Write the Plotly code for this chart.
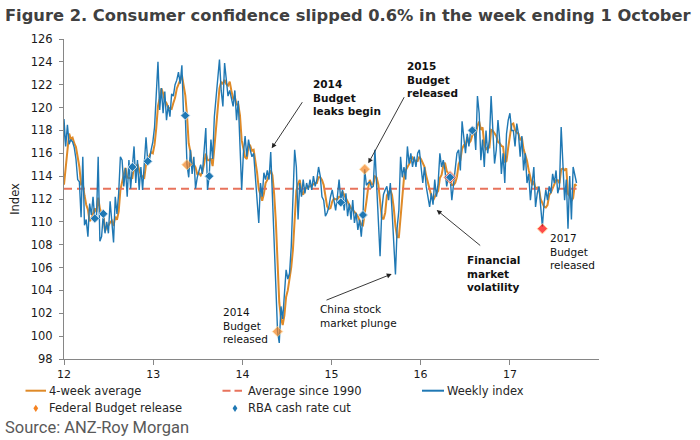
import pandas as pd
import plotly.graph_objects as go

# ---------------- data ----------------
w2011 = [110.5, 111.5, 112.0]  # Dec-2011 weeks (only feed the 4-week average)
w2012 = [119.0, 116.6, 118.5, 116.8, 117.2, 117.0, 116.5, 115.5, 113.7, 113.5,
         110.4, 115.7, 109.7, 110.2, 108.7, 111.6, 110.6, 112.2, 110.3, 110.3,
         115.7, 108.3, 108.7, 110.7, 109.0, 110.0, 109.0, 111.8, 109.6, 108.2,
         112.2, 110.7, 112.5, 115.7, 115.4, 113.1, 114.7, 112.2, 115.4, 112.9,
         114.8, 116.6, 113.4, 115.4, 112.8, 114.8, 112.8, 115.0, 117.4, 115.3,
         115.4, 116.3, 117.0]
w2013 = [118.3, 121.2, 124.0, 119.8, 121.7, 119.5, 121.4, 118.9, 120.2, 119.2,
         121.2, 121.0, 122.0, 122.4, 123.1, 122.1, 123.7, 119.2, 119.3, 115.0,
         113.9, 116.3, 114.2, 115.7, 112.9, 113.9, 114.5, 115.0, 114.2, 116.5,
         118.2, 112.8, 114.0, 117.2, 115.5, 119.2, 120.9, 122.4, 124.2, 121.5,
         120.1, 123.9, 122.7, 121.0, 121.5, 120.6, 120.1, 121.5, 118.9, 120.6,
         116.3, 112.8]
w2014 = [116.0, 117.5, 115.7, 117.2, 116.3, 115.7, 116.0, 113.7, 111.9, 109.9,
         113.4, 112.2, 114.3, 113.7, 114.5, 113.7, 116.1, 112.0, 108.0, 104.0,
         100.4, 99.4, 102.6, 101.5, 103.8, 105.8, 105.0, 105.5, 107.8, 112.0,
         116.3, 114.8, 110.2, 113.4, 112.2, 113.7, 112.5, 113.4, 112.8, 113.7,
         112.8, 114.0, 113.1, 113.7, 114.8, 114.0, 112.2, 111.9, 110.5, 110.8,
         111.3, 112.2]
w2015 = [112.8, 111.9, 111.0, 112.2, 113.7, 111.9, 112.8, 111.0, 112.5, 110.5,
         111.6, 110.2, 111.9, 109.9, 110.8, 109.3, 110.2, 108.7, 110.6, 114.6,
         113.2, 113.4, 113.5, 113.0, 113.1, 116.3, 113.1, 110.5, 107.0, 111.0,
         112.4, 112.8, 113.1, 111.9, 113.4, 111.0, 108.7, 105.4, 109.5, 111.0,
         115.7, 113.9, 114.8, 113.7, 116.6, 115.1, 116.0, 114.8, 115.7, 114.8,
         116.0, 116.3]
w2016 = [114.8, 113.4, 114.8, 113.1, 112.2, 111.3, 112.5, 111.5, 113.7, 112.2,
         113.4, 116.0, 114.8, 115.4, 114.5, 113.1, 114.0, 113.9, 111.9, 113.1,
         114.8, 116.0, 116.3, 114.5, 118.8, 117.2, 116.0, 117.7, 116.6, 118.0,
         118.0, 118.3, 116.3, 121.0, 119.5, 115.4, 117.2, 114.8, 118.0, 116.0,
         117.2, 121.0, 117.7, 115.1, 116.3, 118.9, 117.2, 114.2, 116.0, 113.4,
         117.7, 118.9]
w2017 = [119.5, 118.0, 118.0, 116.6, 118.6, 117.7, 115.7, 117.5, 114.5, 116.0,
         113.4, 114.2, 111.9, 113.4, 114.8, 111.3, 112.5, 113.1, 111.0, 109.6,
         111.6, 112.8, 111.9, 113.1, 112.5, 114.2, 113.4, 114.5, 112.5, 113.1,
         118.3, 114.8, 111.9, 113.7, 109.4, 114.0, 110.2, 114.8, 114.2, 113.4]
segment_starts = ["2011-12-11", "2012-01-01", "2013-01-06", "2014-01-05",
                  "2015-01-04", "2016-01-03", "2017-01-01"]

avg_since_1990 = 112.9

budget_dates = ["2013-05-19", "2014-05-25", "2015-05-17", "2016-05-01", "2017-05-14"]
budget_vals = [115.0, 100.4, 114.6, 113.9, 109.4]
budget_colors = ["#F58220", "#F58220", "#F58220", "#E8222B", "#FF0000"]

rba_dates = ["2012-05-06", "2012-06-10", "2012-10-07", "2012-12-09", "2013-05-12",
             "2013-08-18", "2015-02-08", "2015-05-10", "2016-05-01", "2016-07-31"]
rba_vals = [110.3, 110.7, 114.8, 115.3, 119.3, 114.0, 111.7, 110.6, 113.9, 118.0]

year_ticks = ["2012-01-01", "2013-01-01", "2014-01-01", "2015-01-01",
              "2016-01-01", "2017-01-01"]
year_labels = ["12", "13", "14", "15", "16", "17"]

# ---------------- build series ----------------
parts = []
for start, vals in zip(segment_starts, [w2011, w2012, w2013, w2014, w2015, w2016, w2017]):
    idx = pd.date_range(start=start, periods=len(vals), freq="7D")
    parts.append(pd.Series(vals, index=idx))
weekly = pd.concat(parts)
avg4 = weekly.rolling(4).mean().dropna()
shown = weekly[weekly.index >= "2012-01-01"]

BLUE = "#1F78B4"
ORANGE = "#DF8A28"
RED_DASH = "#E8735C"
FONT = "DejaVu Sans"

fig = go.Figure()
fig.add_trace(go.Scatter(x=avg4.index, y=avg4.values, mode="lines",
                         line=dict(color=ORANGE, width=2), name="4-week average"))
fig.add_trace(go.Scatter(x=[shown.index[0], shown.index[-1]],
                         y=[avg_since_1990, avg_since_1990], mode="lines",
                         line=dict(color=RED_DASH, width=2, dash="8px,5px"),
                         name="Average since 1990"))
fig.add_trace(go.Scatter(x=weekly.index, y=weekly.values, mode="lines",
                         line=dict(color=BLUE, width=1.4), name="Weekly index"))
fig.add_trace(go.Scatter(x=budget_dates, y=budget_vals, mode="markers",
                         marker=dict(symbol="diamond", size=[8, 8, 8, 10, 8],
                                     color=budget_colors,
                                     line=dict(color="#FFD58A", width=1)),
                         name="Federal Budget release"))
fig.add_trace(go.Scatter(x=rba_dates, y=rba_vals, mode="markers",
                         marker=dict(symbol="diamond", size=7, color=BLUE,
                                     line=dict(color="#CFE3F2", width=1)),
                         name="RBA cash rate cut"))

# ---------------- pixel helpers for annotation placement ----------------
L, R, T, B = 64, 101, 39, 81
PW, PH = 700 - L - R, 440 - T - B


def px(xp):
    return (xp - L) / PW


def py(yp):
    return (440 - B - yp) / PH


annotations = []


def text_ann(xl, yc, text, size=10.5, color="#111111", family=FONT):
    annotations.append(dict(xref="paper", yref="paper", x=px(xl), y=py(yc),
                            xanchor="left", yanchor="middle", align="left",
                            showarrow=False, text=text,
                            font=dict(family=family, size=size, color=color)))


def arrow(tip, tail):
    annotations.append(dict(xref="paper", yref="paper", x=px(tip[0]), y=py(tip[1]),
                            ax=tail[0] - tip[0], ay=tail[1] - tip[1], text="",
                            showarrow=True, arrowhead=2, arrowsize=1.1,
                            arrowwidth=0.9, arrowcolor="#222222"))


text_ann(311, 97.5, "<b>2014<br>Budget<br>leaks begin</b>")
text_ann(405, 79, "<b>2015<br>Budget<br>released</b>")
text_ann(221, 325, "2014<br>Budget<br>released")
text_ann(318, 316.3, "China stock<br>market plunge")
text_ann(465, 273, "<b>Financial<br>market<br>volatility</b>")
text_ann(548, 251.5, "2017<br>Budget<br>released")

arrow((271.7, 148.3), (303.3, 100.7))
arrow((368.3, 163.3), (405, 95.7))
arrow((391.7, 274), (325, 300.7))
arrow((436.7, 210), (481.7, 246.7))

# manual legend
LEG_Y1, LEG_Y2 = 390.7, 408.3
legend_text = [(46.5, LEG_Y1, "4-week average"), (245.5, LEG_Y1, "Average since 1990"),
               (444.7, LEG_Y1, "Weekly index"), (46.5, LEG_Y2, "Federal Budget release"),
               (245.5, LEG_Y2, "RBA cash rate cut")]
for xl, yc, t in legend_text:
    text_ann(xl, yc, t, size=11.5, color="#262626")

shapes = [
    dict(type="line", xref="paper", yref="paper", x0=px(25.5), x1=px(46), y0=py(LEG_Y1),
         y1=py(LEG_Y1), line=dict(color=ORANGE, width=2)),
    dict(type="line", xref="paper", yref="paper", x0=px(222.5), x1=px(242), y0=py(LEG_Y1),
         y1=py(LEG_Y1), line=dict(color=RED_DASH, width=2, dash="8px,4px")),
    dict(type="line", xref="paper", yref="paper", x0=px(422), x1=px(444), y0=py(LEG_Y1),
         y1=py(LEG_Y1), line=dict(color=BLUE, width=2)),
]
for cx, col in [(35.8, "#F58220"), (235, BLUE)]:
    d = 3.0
    path = (f"M {px(cx)} {py(LEG_Y2 - d - 0.6)} L {px(cx + d - 0.6)} {py(LEG_Y2)} "
            f"L {px(cx)} {py(LEG_Y2 + d + 0.6)} L {px(cx - d + 0.6)} {py(LEG_Y2)} Z")
    shapes.append(dict(type="path", xref="paper", yref="paper", path=path,
                       fillcolor=col, line=dict(width=0)))

# title and source
annotations.append(dict(xref="paper", yref="paper", x=px(3), y=py(15.5), xanchor="left",
                        yanchor="middle", showarrow=False,
                        text="<b>Figure 2. Consumer confidence slipped 0.6% in the week ending 1 October</b>",
                        font=dict(family=FONT, size=16.3, color="#404040")))
annotations.append(dict(xref="paper", yref="paper", x=px(3), y=py(427.3), xanchor="left",
                        yanchor="middle", showarrow=False, text="Source: ANZ-Roy Morgan",
                        font=dict(family="Roboto", size=16.5, color="#595959")))

fig.update_layout(
    width=700, height=440, margin=dict(l=L, r=R, t=T, b=B),
    paper_bgcolor="white", plot_bgcolor="white", showlegend=False,
    font=dict(family=FONT, size=11, color="#1a1a1a"),
    annotations=annotations, shapes=shapes,
)
fig.update_xaxes(type="date", range=["2012-01-01", "2018-01-01"], tickvals=year_ticks,
                 ticktext=year_labels, ticks="outside", ticklen=5, tickcolor="#868686",
                 showline=True, linecolor="#868686", linewidth=1, showgrid=False,
                 zeroline=False, tickfont=dict(family=FONT, size=11, color="#1a1a1a"))
fig.update_yaxes(range=[98, 126], dtick=2, ticks="outside", ticklen=4, tickcolor="#868686",
                 showline=True, linecolor="#868686", linewidth=1, showgrid=False,
                 zeroline=False, ticklabelstandoff=4,
                 title=dict(text="Index", font=dict(family=FONT, size=11.5, color="#1a1a1a"),
                            standoff=8),
                 tickfont=dict(family=FONT, size=11.5, color="#1a1a1a"))

fig.write_html("out.html")
